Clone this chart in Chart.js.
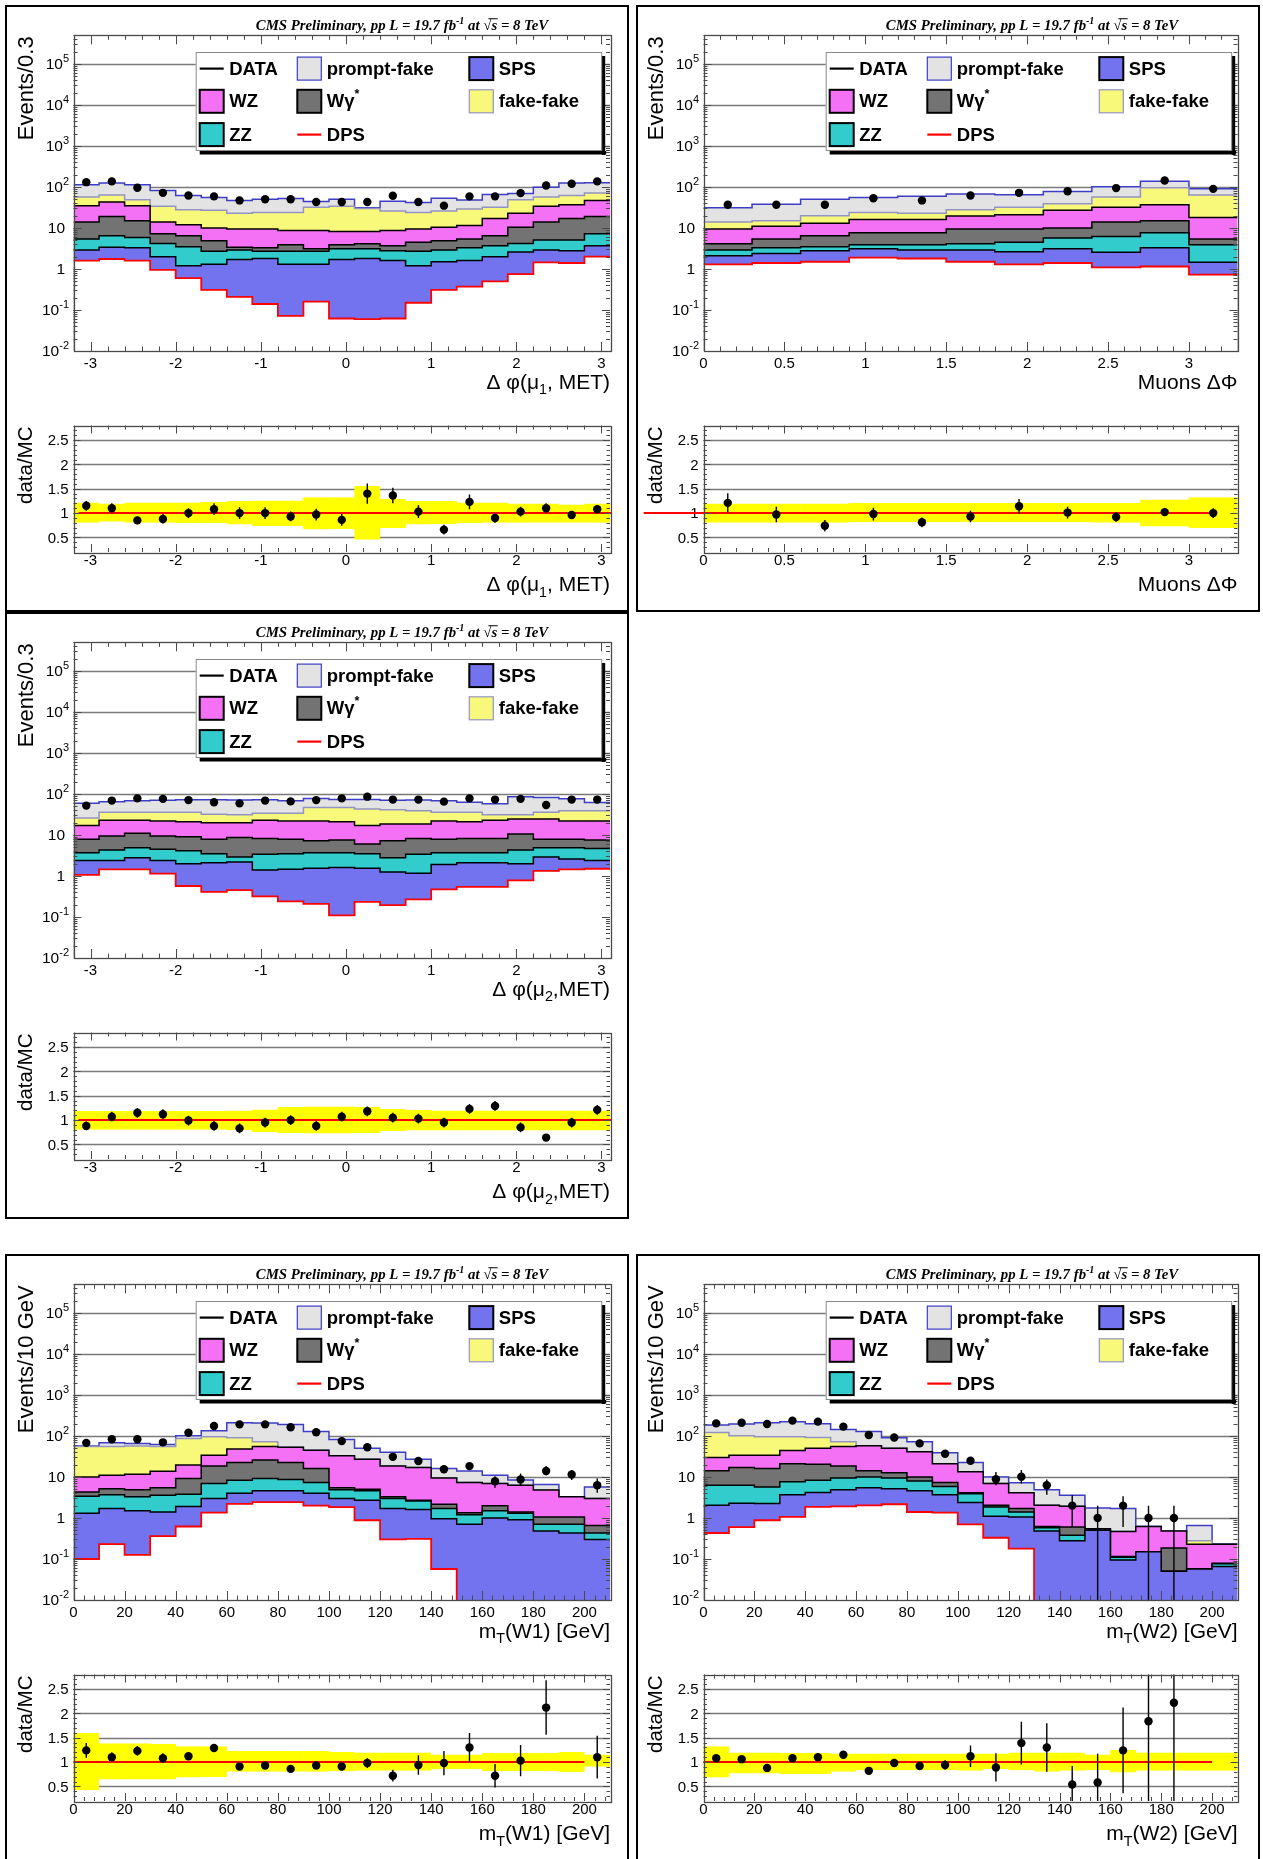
<!DOCTYPE html>
<html lang="en">
<head>
<meta charset="UTF-8">
<title>Same-sign dimuon control distributions</title>
<script src="https://cdn.jsdelivr.net/npm/chart.js"></script>
<style>
  html, body { margin: 0; padding: 0; background: #fff; }
  body { position: relative; width: 1263px; height: 1859px; overflow: hidden; }
  .pad { position: absolute; border: 2px solid #000; box-sizing: border-box; }
  canvas { position: absolute; }
</style>
</head>
<body>
<div class="pad" style="left:5px;top:5px;width:624px;height:607px"></div>
<div class="pad" style="left:636px;top:5px;width:624px;height:607px"></div>
<div class="pad" style="left:5px;top:612px;width:624px;height:607px"></div>
<div class="pad" style="left:5px;top:1254px;width:624px;height:607px"></div>
<div class="pad" style="left:636px;top:1254px;width:624px;height:607px"></div>

<script>
// ---- binning and axis ticks ----
const dphiEdges = [-3.2, -2.9, -2.6, -2.3, -2.0, -1.7, -1.4, -1.1, -0.8, -0.5, -0.2, 0.1, 0.4, 0.7, 1.0, 1.3, 1.6, 1.9, 2.2, 2.5, 2.8, 3.1];
const muonDphiEdges = [0, 0.3, 0.6, 0.9, 1.2, 1.5, 1.8, 2.1, 2.4, 2.7, 3.0, 3.3];
const mtEdges = [0, 10, 20, 30, 40, 50, 60, 70, 80, 90, 100, 110, 120, 130, 140, 150, 160, 170, 180, 190, 200, 210];
const dphiTicks = [-3, -2, -1, 0, 1, 2, 3];
const muonDphiTicks = [0, 0.5, 1, 1.5, 2, 2.5, 3];
const mtTicks = [0, 20, 40, 60, 80, 100, 120, 140, 160, 180, 200];
const logTicks = [0.01, 0.1, 1, 10, 100, 1000, 10000, 100000];
const logTickLabels = [['10', '-2'], ['10', '-1'], ['1', ''], ['10', ''], ['10', '2'], ['10', '3'], ['10', '4'], ['10', '5']];
const ratioTicks = [0.5, 1, 1.5, 2, 2.5];
const ratioTickLabels = ['0.5', '1', '1.5', '2', '2.5'];

// ---- Δφ(μ1, MET): stack tops (cumulative), data, ratio ----
const mu1PromptFake = [114, 125, 113, 82, 62, 55, 47, 50, 52, 44, 50, 31, 45, 42, 53, 48, 66, 69, 99, 125, 127];
const mu1FakeFake = [57, 64, 49, 34, 28, 27, 23, 24, 24, 32, 34, 30, 26, 24, 26, 29, 32, 49, 57, 62, 71];
const mu1WZ = [35, 43, 35, 14, 12, 10, 9.5, 9.5, 8.7, 8.7, 8.2, 8.2, 8.7, 9.5, 10.4, 11.5, 17, 23, 34, 37, 47];
const mu1Wg = [14, 19, 15, 7.2, 6.5, 4.9, 3.4, 3.3, 3.9, 3.1, 3.9, 4.1, 3.7, 4.5, 4.9, 5.4, 6.5, 10.4, 14, 17, 19];
const mu1ZZ = [5.4, 6.5, 5.9, 4.2, 3.5, 2.7, 2.9, 2.7, 2.7, 2.7, 3.1, 3.1, 2.8, 2.7, 2.9, 3.3, 3.7, 4.2, 5.1, 5.1, 7.2];
const mu1SPS = [2.9, 3.4, 3.3, 2.0, 1.2, 1.3, 1.7, 1.8, 1.3, 1.3, 1.7, 1.8, 1.6, 1.2, 1.5, 1.6, 2.0, 2.6, 2.9, 2.8, 3.7];
const mu1DPS = [1.6, 1.75, 1.6, 0.95, 0.6, 0.31, 0.21, 0.14, 0.072, 0.16, 0.062, 0.06, 0.062, 0.15, 0.31, 0.37, 0.5, 0.75, 1.45, 1.4, 2.0];
const mu1Data = [131, 137, 96, 72, 62, 59, 47, 50, 50, 43, 43, 43, 61, 43, 35, 59, 59, 71, 109, 120, 137];
const mu1Ratio = [1.15, 1.10, 0.85, 0.88, 1.0, 1.08, 1.0, 1.0, 0.93, 0.97, 0.86, 1.40, 1.36, 1.03, 0.66, 1.23, 0.90, 1.03, 1.10, 0.96, 1.08];
const mu1RatioErr = [0.1, 0.1, 0.08, 0.1, 0.1, 0.12, 0.12, 0.12, 0.1, 0.12, 0.12, 0.21, 0.16, 0.13, 0.1, 0.15, 0.1, 0.1, 0.1, 0.08, 0.08];
const mu1BandHi = [1.21, 1.19, 1.21, 1.21, 1.21, 1.22, 1.24, 1.25, 1.25, 1.32, 1.32, 1.55, 1.28, 1.24, 1.24, 1.21, 1.21, 1.19, 1.19, 1.17, 1.19];
const mu1BandLo = [0.81, 0.83, 0.81, 0.81, 0.8, 0.8, 0.77, 0.74, 0.74, 0.67, 0.68, 0.46, 0.7, 0.77, 0.78, 0.8, 0.81, 0.81, 0.81, 0.81, 0.81];

// ---- Muons ΔΦ ----
const dmmPromptFake = [31, 38, 50, 55, 59, 67, 65, 78, 102, 138, 90];
const dmmFakeFake = [14, 15, 20, 24, 23, 28, 32, 39, 57, 96, 64];
const dmmWZ = [9.5, 11, 13, 16, 16, 19.5, 21, 27, 32, 37, 18];
const dmmWg = [4.1, 5.4, 6.5, 7.6, 7.6, 9.5, 9.5, 10, 14, 15, 5.4];
const dmmZZ = [2.9, 3.3, 3.5, 3.9, 3.9, 4.1, 4.5, 5.7, 6.2, 7.6, 3.9];
const dmmSPS = [2.1, 2.4, 2.8, 3.1, 2.9, 2.9, 2.65, 3.1, 2.55, 3.3, 1.45];
const dmmDPS = [1.3, 1.4, 1.5, 1.9, 1.8, 1.5, 1.3, 1.4, 1.1, 1.15, 0.73];
const dmmData = [37, 37, 37, 53, 47, 62, 72, 79, 94, 144, 90];
const dmmRatio = [1.21, 0.97, 0.74, 0.98, 0.81, 0.93, 1.14, 1.01, 0.92, 1.02, 1.0];
const dmmRatioErr = [0.2, 0.16, 0.12, 0.13, 0.1, 0.12, 0.15, 0.12, 0.1, 0.08, 0.1];
const dmmBandHi = [1.19, 1.19, 1.19, 1.2, 1.2, 1.2, 1.2, 1.2, 1.2, 1.27, 1.32];
const dmmBandLo = [0.81, 0.81, 0.81, 0.82, 0.82, 0.82, 0.82, 0.82, 0.81, 0.73, 0.7];

// ---- Δφ(μ2, MET) ----
const mu2PromptFake = [59, 65, 68, 70, 72, 72, 71, 72, 68, 78, 73, 73, 70, 71, 68, 63, 58, 86, 82, 76, 62];
const mu2FakeFake = [26, 36, 36, 36, 36, 32, 31, 34, 34, 47, 47, 43, 41, 39, 36, 36, 31, 31, 36, 39, 39];
const mu2WZ = [17, 23, 23, 22, 21, 20, 20, 23, 22, 22, 21, 17, 18.5, 18.5, 22, 21, 23, 24.5, 24.5, 22, 22];
const mu2Wg = [7.9, 9.5, 11, 9.5, 9.0, 7.9, 8.7, 8.2, 7.9, 7.2, 7.5, 6.0, 7.2, 8.2, 7.9, 8.2, 8.2, 10.5, 7.9, 7.9, 7.5];
const mu2ZZ = [3.7, 4.3, 4.9, 4.5, 4.1, 3.5, 2.9, 3.4, 3.5, 3.7, 3.7, 3.5, 2.8, 3.4, 3.7, 3.7, 3.7, 4.3, 4.9, 4.9, 4.7];
const mu2SPS = [2.4, 2.4, 2.8, 2.4, 2.0, 2.1, 2.2, 1.4, 1.45, 1.55, 1.6, 1.55, 1.25, 1.16, 1.9, 2.1, 2.1, 2.0, 2.9, 2.6, 2.4];
const mu2DPS = [1.06, 1.45, 1.45, 1.14, 0.57, 0.41, 0.45, 0.32, 0.24, 0.21, 0.11, 0.235, 0.195, 0.27, 0.47, 0.54, 0.54, 0.78, 1.33, 1.45, 1.5];
const mu2Data = [52, 69, 78, 76, 71, 63, 59, 69, 66, 71, 78, 86, 73, 73, 65, 78, 73, 76, 54, 73, 73];
const mu2Ratio = [0.88, 1.07, 1.15, 1.12, 0.99, 0.88, 0.83, 0.95, 1.0, 0.88, 1.07, 1.18, 1.05, 1.03, 0.95, 1.23, 1.29, 0.85, 0.64, 0.95, 1.21];
const mu2RatioErr = [0.09, 0.1, 0.1, 0.1, 0.1, 0.1, 0.1, 0.1, 0.1, 0.1, 0.1, 0.1, 0.1, 0.1, 0.1, 0.1, 0.1, 0.1, 0.07, 0.1, 0.1];
const mu2BandHi = [1.18, 1.18, 1.18, 1.18, 1.18, 1.18, 1.19, 1.21, 1.26, 1.27, 1.27, 1.26, 1.22, 1.2, 1.19, 1.19, 1.19, 1.19, 1.19, 1.19, 1.19];
const mu2BandLo = [0.81, 0.81, 0.81, 0.81, 0.81, 0.81, 0.8, 0.76, 0.74, 0.73, 0.73, 0.74, 0.78, 0.79, 0.79, 0.79, 0.79, 0.79, 0.79, 0.79, 0.79];

// ---- mT(W1) ----
const w1PromptFake = [57, 68, 66, 62, 102, 135, 211, 206, 190, 128, 82, 50, 40, 27, 16, 14, 11, 8.4, 6.6, 3.3, 5.7];
const w1FakeFake = [55, 55, 57, 55, 87, 96, 91, 72, 53, 45, 33, 27, 18.5, 17, 9.5, 7.3, 6.9, 6.3, 4.8, 3.3, 3.0];
const w1WZ = [10, 11, 11.7, 13.8, 19.5, 34, 48, 55, 53, 45, 33, 27, 18.5, 17, 9.5, 7.3, 6.9, 6.3, 4.8, 3.3, 3.0];
const w1Wg = [4.3, 5.2, 4.9, 5.5, 9.2, 18.4, 22.5, 26, 22.5, 16, 5.5, 5.0, 3.3, 2.7, 2.15, 1.35, 2.0, 1.4, 1.05, 1.05, 0.66];
const w1ZZ = [3.4, 3.7, 3.3, 3.6, 3.8, 6.9, 8.3, 9.2, 8.7, 7.3, 4.9, 4.6, 3.0, 2.6, 1.7, 1.2, 1.5, 1.3, 0.70, 0.70, 0.43];
const w1SPS = [1.3, 1.7, 1.5, 1.4, 1.9, 3.0, 4.0, 4.6, 4.6, 4.0, 3.0, 2.7, 1.7, 1.6, 0.96, 0.70, 1.0, 0.91, 0.48, 0.43, 0.30];
const w1DPS = [0.10, 0.23, 0.126, 0.36, 0.62, 1.35, 2.2, 2.45, 2.45, 2.0, 1.85, 0.88, 0.30, 0.31, 0.057, 0, 0, 0, 0, 0, 0];
const w1Data = [68, 83, 83, 70, 120, 175, 192, 192, 163, 123, 75, 53, 31, 24.5, 15.5, 18.4, 7.9, 8.7, 14, 11.5, 6.3];
const w1DataLo = [null, null, null, null, null, null, null, null, null, null, null, null, null, null, 13.5, 15, 5.5, 6.3, 11, 8.4, 4.1];
const w1DataHi = [null, null, null, null, null, null, null, null, null, null, null, null, null, null, 18, 21, 10.4, 12.2, 18.4, 14.7, 9.2];
const w1Ratio = [1.24, 1.10, 1.23, 1.08, 1.12, 1.29, 0.91, 0.93, 0.86, 0.93, 0.91, 0.98, 0.72, 0.94, 0.98, 1.30, 0.72, 1.03, 2.12, null, 1.10];
const w1RatioErr = [0.15, 0.1, 0.1, 0.1, 0.08, 0.08, 0.06, 0.06, 0.06, 0.06, 0.08, 0.1, 0.12, 0.2, 0.25, 0.3, 0.24, 0.32, 0.56, null, 0.44];
const w1BandHi = [1.59, 1.38, 1.38, 1.37, 1.32, 1.32, 1.22, 1.22, 1.22, 1.22, 1.2, 1.19, 1.19, 1.19, 1.15, 1.15, 1.18, 1.18, 1.18, 1.2, 1.15];
const w1BandLo = [0.43, 0.65, 0.65, 0.65, 0.69, 0.7, 0.81, 0.81, 0.81, 0.81, 0.82, 0.83, 0.83, 0.83, 0.86, 0.86, 0.82, 0.82, 0.82, 0.8, 0.91];

// ---- mT(W2) ----
const w2PromptFake = [185, 197, 210, 222, 200, 143, 128, 90, 72, 39, 22.6, 10, 7.2, 4.9, 3.6, 1.76, 1.7, 0.62, 0.48, 0.66, 0.235];
const w2FakeFake = [121, 101, 96, 96, 92, 72, 58, 50, 41, 21, 13.4, 6.9, 4.1, 2.04, 1.93, 0.55, 0.47, 0.62, 0.48, 0.28, 0.23];
const w2WZ = [30, 34, 34, 44, 50, 55, 58, 50, 41, 21, 13.4, 6.9, 4.1, 2.04, 1.93, 0.55, 0.47, 0.62, 0.48, 0.23, 0.23];
const w2Wg = [14.1, 17, 16, 21, 20.5, 18.4, 14.1, 12.6, 10, 7.3, 4.1, 2.04, 1.7, 0.62, 0.60, 0.55, 0.115, 0.15, 0.185, 0.057, 0.079];
const w2ZZ = [6.3, 6.3, 5.7, 7.6, 8.3, 9.5, 10, 9.5, 8.0, 5.9, 3.9, 1.86, 1.4, 0.58, 0.38, 0.50, 0.11, 0.15, 0.05, 0.057, 0.077];
const w2SPS = [2.04, 2.3, 2.25, 3.7, 4.2, 4.9, 5.5, 5.2, 4.6, 3.7, 2.4, 1.1, 1.05, 0.48, 0.28, 0.50, 0.095, 0.15, 0.05, 0.057, 0.066];
const w2DPS = [0.43, 0.60, 0.88, 1.06, 1.86, 1.93, 2.04, 2.16, 1.40, 1.35, 0.70, 0.33, 0.18, 0, 0, 0, 0, 0, 0, 0, 0];
const w2Data = [203, 211, 196, 237, 224, 169, 106, 92, 66, 37, 24.8, 8.8, 10.1, 6.3, 2.0, 1.0, 2.0, 1.0, 1.0, null, null];
const w2DataLo = [null, null, null, null, null, null, null, null, null, null, null, 6.3, 6.9, 3.7, 0.6, 0, 0.6, 0, 0, null, null];
const w2DataHi = [null, null, null, null, null, null, null, null, null, null, null, 13.3, 14.7, 8.7, 3.6, 2.0, 3.4, 2.0, 2.0, null, null];
const w2Ratio = [1.08, 1.06, 0.88, 1.08, 1.10, 1.15, 0.82, 0.98, 0.92, 0.94, 1.12, 0.89, 1.39, 1.30, 0.54, 0.58, 1.24, 1.84, 2.22, null, null];
const w2RatioErrLo = [0.05, 0.05, 0.05, 0.05, 0.05, 0.05, 0.05, 0.06, 0.06, 0.1, 0.22, 0.29, 0.44, 0.5, 0.54, 0.58, 0.88, 1.84, 2.22, null, null];
const w2RatioErrHi = [0.05, 0.05, 0.05, 0.05, 0.05, 0.05, 0.05, 0.06, 0.06, 0.1, 0.22, 0.29, 0.44, 0.5, 0.38, 0.59, 0.88, 2.0, 2.0, null, null];
const w2BandHi = [1.32, 1.19, 1.19, 1.18, 1.18, 1.17, 1.17, 1.17, 1.17, 1.17, 1.17, 1.17, 1.19, 1.19, 1.19, 1.15, 1.24, 1.19, 1.19, 1.19, 1.19];
const w2BandLo = [0.69, 0.77, 0.77, 0.76, 0.76, 0.81, 0.84, 0.84, 0.84, 0.84, 0.83, 0.86, 0.84, 0.81, 0.83, 0.84, 0.79, 0.83, 0.83, 0.83, 0.83];

// ---- styles ----
const FILL = { promptFake: '#e3e3e3', fakeFake: '#f8f87a', WZ: '#f470f4', Wg: '#737373', ZZ: '#33cccc', SPS: '#7373ef', DPS: '#ffffff' };
const EDGE = { promptFake: '#3c3cc4', fakeFake: '#9494c4', WZ: '#000000', Wg: '#000000', ZZ: '#000000', SPS: '#000000', DPS: '#ff0000' };
const SANS = '"Liberation Sans", Arial, sans-serif';
const SERIF = '"Liberation Serif", "Times New Roman", serif';
const GRID = '#7a7a7a';
const FRAME = '#4a4a4a';
const legendEntries = [
  ['DATA', 'data', 0, 0], ['prompt-fake', 'promptFake', 1, 0], ['SPS', 'SPS', 2, 0],
  ['WZ', 'WZ', 0, 1], ['Wγ', 'Wg', 1, 1], ['fake-fake', 'fakeFake', 2, 1],
  ['ZZ', 'ZZ', 0, 2], ['DPS', 'DPS', 1, 2]
];

const LEFT = { left: 6, width: 622, frameL: 73.5, frameR: 610 };
const RIGHT = { left: 637, width: 623, frameL: 703.5, frameR: 1237.5 };

const panels = [
  Object.assign({ top: 6, edges: dphiEdges, xMin: -3.2, xMax: 3.1, ticks: dphiTicks, minorStep: 0.2,
    yTitle: 'Events/0.3', xTitle: [['Δ φ(μ', ''], ['1', 'sub'], [', MET)', '']],
    pf: mu1PromptFake, ff: mu1FakeFake, wz: mu1WZ, wg: mu1Wg, zz: mu1ZZ, sps: mu1SPS, dps: mu1DPS,
    data: mu1Data, dataLo: null, dataHi: null, ratio: mu1Ratio, errLo: mu1RatioErr, errHi: mu1RatioErr,
    bandLo: mu1BandLo, bandHi: mu1BandHi, refLine: [-3.14, 3.14], refClip: true }, LEFT),
  Object.assign({ top: 6, edges: muonDphiEdges, xMin: 0, xMax: 3.3, ticks: muonDphiTicks, minorStep: 0.1,
    yTitle: 'Events/0.3', xTitle: [['Muons ΔΦ', '']],
    pf: dmmPromptFake, ff: dmmFakeFake, wz: dmmWZ, wg: dmmWg, zz: dmmZZ, sps: dmmSPS, dps: dmmDPS,
    data: dmmData, dataLo: null, dataHi: null, ratio: dmmRatio, errLo: dmmRatioErr, errHi: dmmRatioErr,
    bandLo: dmmBandLo, bandHi: dmmBandHi, refLine: [-0.37, 3.15], refClip: false }, RIGHT),
  Object.assign({ top: 613, edges: dphiEdges, xMin: -3.2, xMax: 3.1, ticks: dphiTicks, minorStep: 0.2,
    yTitle: 'Events/0.3', xTitle: [['Δ φ(μ', ''], ['2', 'sub'], [',MET)', '']],
    pf: mu2PromptFake, ff: mu2FakeFake, wz: mu2WZ, wg: mu2Wg, zz: mu2ZZ, sps: mu2SPS, dps: mu2DPS,
    data: mu2Data, dataLo: null, dataHi: null, ratio: mu2Ratio, errLo: mu2RatioErr, errHi: mu2RatioErr,
    bandLo: mu2BandLo, bandHi: mu2BandHi, refLine: [-3.14, 3.14], refClip: true }, LEFT),
  Object.assign({ top: 1255, edges: mtEdges, xMin: 0, xMax: 210, ticks: mtTicks, minorStep: 4,
    yTitle: 'Events/10 GeV', xTitle: [['m', ''], ['T', 'sub'], ['(W1) [GeV]', '']],
    pf: w1PromptFake, ff: w1FakeFake, wz: w1WZ, wg: w1Wg, zz: w1ZZ, sps: w1SPS, dps: w1DPS,
    data: w1Data, dataLo: w1DataLo, dataHi: w1DataHi, ratio: w1Ratio, errLo: w1RatioErr, errHi: w1RatioErr,
    bandLo: w1BandLo, bandHi: w1BandHi, refLine: [0, 200], refClip: true }, LEFT),
  Object.assign({ top: 1255, edges: mtEdges, xMin: 0, xMax: 210, ticks: mtTicks, minorStep: 4,
    yTitle: 'Events/10 GeV', xTitle: [['m', ''], ['T', 'sub'], ['(W2) [GeV]', '']],
    pf: w2PromptFake, ff: w2FakeFake, wz: w2WZ, wg: w2Wg, zz: w2ZZ, sps: w2SPS, dps: w2DPS,
    data: w2Data, dataLo: w2DataLo, dataHi: w2DataHi, ratio: w2Ratio, errLo: w2RatioErrLo, errHi: w2RatioErrHi,
    bandLo: w2BandLo, bandHi: w2BandHi, refLine: [0, 200], refClip: true }, RIGHT)
];

// ---- helpers ----
function addCanvas(x, y, w, h) {
  const c = document.createElement('canvas');
  c.width = w; c.height = h;
  c.style.left = x + 'px'; c.style.top = y + 'px';
  document.body.appendChild(c);
  return c;
}

function stepRange(a, b, step) {
  const out = [];
  for (let k = Math.ceil(a / step - 1e-9); k * step <= b + 1e-9; k++) out.push(+(k * step).toFixed(6));
  return out;
}

function histPoints(edges, vals) {
  const pts = [];
  vals.forEach((v, i) => {
    const y = v > 0 ? v : 1e-4;
    pts.push({ x: edges[i], y: y }, { x: edges[i + 1], y: y });
  });
  return pts;
}

function segFont(mode, size, pre, fam) {
  const s = mode ? size * 0.68 : size;
  return pre + s + 'px ' + fam;
}

function drawRich(ctx, segs, x, y, size, pre, fam, align) {
  let w = 0;
  segs.forEach(([t, m]) => { ctx.font = segFont(m === 'over' ? '' : m, size, pre, fam); w += ctx.measureText(t).width; });
  let cx = align === 'right' ? x - w : align === 'center' ? x - w / 2 : x;
  ctx.textAlign = 'left';
  const marks = [];
  segs.forEach(([t, m]) => {
    ctx.font = segFont(m === 'over' ? '' : m, size, pre, fam);
    const dy = m === 'sub' ? size * 0.28 : m === 'sup' ? -size * 0.42 : 0;
    ctx.fillText(t, cx, y + dy);
    const tw = ctx.measureText(t).width;
    if (m === 'over') marks.push([cx, cx + tw]);
    cx += tw;
  });
  return marks;
}

function hline(ctx, x0, x1, y) { ctx.beginPath(); ctx.moveTo(x0, y); ctx.lineTo(x1, y); ctx.stroke(); }
function vline(ctx, x, y0, y1) { ctx.beginPath(); ctx.moveTo(x, y0); ctx.lineTo(x, y1); ctx.stroke(); }

function drawFrameTicks(ctx, a, xs, ys, p, yMajor, yMinor, len) {
  ctx.save();
  ctx.strokeStyle = FRAME;
  ctx.lineWidth = 1;
  const minorX = stepRange(p.xMin, p.xMax, p.minorStep).filter(v => !p.ticks.some(t => Math.abs(t - v) < 1e-6));
  p.ticks.forEach(v => {
    const px = Math.round(xs.getPixelForValue(v)) + 0.5;
    vline(ctx, px, a.bottom, a.bottom - len.xMaj); vline(ctx, px, a.top, a.top + len.xMaj);
  });
  minorX.forEach(v => {
    const px = Math.round(xs.getPixelForValue(v)) + 0.5;
    vline(ctx, px, a.bottom, a.bottom - len.xMin); vline(ctx, px, a.top, a.top + len.xMin);
  });
  yMajor.forEach(v => {
    const py = Math.round(ys.getPixelForValue(v)) + 0.5;
    if (py < a.top || py > a.bottom) return;
    hline(ctx, a.left, a.left + len.yMaj, py); hline(ctx, a.right, a.right - len.yMaj, py);
  });
  yMinor.forEach(v => {
    const py = Math.round(ys.getPixelForValue(v)) + 0.5;
    if (py < a.top || py > a.bottom) return;
    hline(ctx, a.left, a.left + len.yMin, py); hline(ctx, a.right, a.right - len.yMin, py);
  });
  ctx.lineWidth = 1.3;
  ctx.strokeRect(Math.round(a.left) + 0.5, Math.round(a.top) + 0.5, Math.round(a.right - a.left), Math.round(a.bottom - a.top));
  // x tick labels
  ctx.fillStyle = '#000';
  ctx.font = '15px ' + SANS;
  ctx.textAlign = 'center';
  ctx.textBaseline = 'top';
  p.ticks.forEach(v => ctx.fillText(String(v), xs.getPixelForValue(v), a.bottom + len.labelGap));
  ctx.restore();
}

function drawErrorBars(ctx, a, xs, ys, centers, vals, lo, hi, isRatio) {
  ctx.save();
  ctx.beginPath(); ctx.rect(a.left, a.top, a.right - a.left, a.bottom - a.top); ctx.clip();
  ctx.strokeStyle = '#000'; ctx.lineWidth = 1.4;
  vals.forEach((v, i) => {
    if (v === null || lo[i] === null || lo[i] === undefined) return;
    const px = xs.getPixelForValue(centers[i]);
    const yl = isRatio ? v - lo[i] : lo[i];
    const yh = isRatio ? v + hi[i] : hi[i];
    const p0 = yl > 0 || isRatio ? ys.getPixelForValue(yl) : a.bottom + 2;
    vline(ctx, px, p0, ys.getPixelForValue(yh));
  });
  ctx.restore();
}

function drawLegend(ctx, a) {
  const L = a.left + 122.2, T = a.top + 16.7, W = 406.5, H = 99;
  ctx.save();
  ctx.fillStyle = '#fff'; ctx.fillRect(L, T, W, H);
  ctx.fillStyle = '#000';
  ctx.fillRect(L + 4, T + H, W, 3.5);
  ctx.fillRect(L + W - 0.5, T + 4, 3.5, H);
  ctx.strokeStyle = '#8a8a8a'; ctx.lineWidth = 1;
  ctx.strokeRect(L + 0.5, T + 0.5, W - 1, H - 1);
  const colX = [L + 4, L + 101.6, L + 273.6];
  const rowY = [T + 16.6, T + 49.3, T + 82.6];
  legendEntries.forEach(([label, key, c, r]) => {
    const x = colX[c], cy = rowY[r];
    if (key === 'data' || key === 'DPS') {
      ctx.strokeStyle = key === 'data' ? '#000' : '#ff0000';
      ctx.lineWidth = 2.2;
      hline(ctx, x, x + 24, cy);
    } else {
      ctx.fillStyle = FILL[key];
      ctx.fillRect(x, cy - 11.5, 24, 23);
      ctx.strokeStyle = EDGE[key];
      ctx.lineWidth = EDGE[key] === '#000000' ? 2 : 1.2;
      ctx.strokeRect(x, cy - 11.5, 24, 23);
    }
    ctx.fillStyle = '#000';
    ctx.textBaseline = 'middle';
    const segs = key === 'Wg' ? [[label, ''], ['*', 'sup']] : [[label, '']];
    drawRich(ctx, segs, x + 29.5, cy + 1, 18.5, 'bold ', SANS, 'left');
  });
  ctx.restore();
}

function drawCmsTitle(ctx, a) {
  ctx.save();
  ctx.fillStyle = '#000';
  ctx.textBaseline = 'alphabetic';
  const size = 14.8, pre = 'bold italic ';
  const segs = [['CMS Preliminary, pp L = 19.7 fb', ''], ['-1', 'sup'], [' at ', ''], ['√', ''], ['s', 'over'], [' = 8 TeV', '']];
  const base = a.top - 5;
  const marks = drawRich(ctx, segs, a.left + 328.5, base, size, pre, SERIF, 'center');
  ctx.strokeStyle = '#000'; ctx.lineWidth = 1;
  marks.forEach(([x0, x1]) => hline(ctx, x0 - 3, x1 + 0.5, base - size * 0.78));
  ctx.restore();
}

function drawYTitle(ctx, a, text, size, offset) {
  ctx.save();
  ctx.translate(a.left - offset, a.top + 1);
  ctx.rotate(-Math.PI / 2);
  ctx.fillStyle = '#000';
  ctx.font = size + 'px ' + SANS;
  ctx.textAlign = 'right';
  ctx.textBaseline = 'alphabetic';
  ctx.fillText(text, 0, 0);
  ctx.restore();
}

function drawXTitle(ctx, a, segs, gap) {
  ctx.save();
  ctx.fillStyle = '#000';
  ctx.textBaseline = 'alphabetic';
  drawRich(ctx, segs, a.right, a.bottom + gap, 21, '', SANS, 'right');
  ctx.restore();
}

function baseOptions(p, padTop, padBottom, yScale) {
  return {
    responsive: false,
    animation: false,
    events: [],
    layout: { padding: { left: p.frameL - p.left, right: p.left + p.width - p.frameR, top: padTop, bottom: padBottom } },
    plugins: { legend: { display: false }, tooltip: { enabled: false } },
    scales: {
      x: { type: 'linear', min: p.xMin, max: p.xMax, display: false, offset: false },
      y: yScale
    }
  };
}

// ---- main (log) histogram panel ----
function makeMain(p) {
  const cv = addCanvas(p.left, p.top, p.width, 400);
  const centers = p.edges.slice(0, -1).map((e, i) => (e + p.edges[i + 1]) / 2);
  const datasets = [{
    type: 'line', data: centers.map((c, i) => ({ x: c, y: p.data[i] })), showLine: false,
    pointRadius: 4.2, pointBackgroundColor: '#000', pointBorderColor: '#000', pointBorderWidth: 0
  }];
  [['DPS', p.dps], ['SPS', p.sps], ['ZZ', p.zz], ['Wg', p.wg], ['WZ', p.wz], ['fakeFake', p.ff], ['promptFake', p.pf]]
    .forEach(([k, vals]) => datasets.push({
      type: 'line', data: histPoints(p.edges, vals), fill: 'start',
      backgroundColor: FILL[k], borderColor: EDGE[k], borderWidth: k === 'DPS' ? 1.8 : 1.5, pointRadius: 0
    }));
  const minorY = [];
  for (let n = -2; n <= 5; n++) for (let k = 2; k <= 9; k++) minorY.push(k * Math.pow(10, n));
  const plugin = {
    id: 'rootMain',
    beforeDatasetsDraw(chart) {
      const { ctx, chartArea: a } = chart;
      const ys = chart.scales.y;
      ctx.save();
      ctx.strokeStyle = GRID; ctx.lineWidth = 1.5;
      logTicks.forEach(v => {
        const py = Math.round(ys.getPixelForValue(v)) + 0.5;
        if (py > a.top + 1 && py < a.bottom - 1) hline(ctx, a.left, a.right, py);
      });
      ctx.fillStyle = '#000'; ctx.textBaseline = 'middle'; ctx.textAlign = 'right';
      logTicks.forEach((v, i) => {
        const py = ys.getPixelForValue(v);
        const [b, e] = logTickLabels[i];
        if (e) {
          ctx.font = '11px ' + SANS;
          const ew = ctx.measureText(e).width;
          ctx.fillText(e, a.left - 4.5, py - 5);
          ctx.font = '15.5px ' + SANS;
          ctx.fillText(b, a.left - 4.5 - ew, py + 1);
        } else {
          ctx.font = '15.5px ' + SANS;
          ctx.fillText(b, a.left - 8.5, py + 1);
        }
      });
      ctx.restore();
    },
    afterDatasetsDraw(chart) {
      const { ctx, chartArea: a } = chart;
      const xs = chart.scales.x, ys = chart.scales.y;
      if (p.dataLo) drawErrorBars(ctx, a, xs, ys, centers, p.data, p.dataLo, p.dataHi, false);
      drawFrameTicks(ctx, a, xs, ys, p, logTicks, minorY, { xMaj: 9, xMin: 4.5, yMaj: 8, yMin: 4, labelGap: 5 });
      drawCmsTitle(ctx, a);
      drawYTitle(ctx, a, p.yTitle, 22, 40.5);
      drawXTitle(ctx, a, p.xTitle, 37.5);
    },
    afterDraw(chart) { drawLegend(chart.ctx, chart.chartArea); }
  };
  new Chart(cv, {
    type: 'line',
    data: { datasets: datasets },
    options: baseOptions(p, 29.3, 55, { type: 'logarithmic', min: 0.01, max: 5e5, display: false }),
    plugins: [plugin]
  });
}

// ---- ratio panel ----
function makeRatio(p) {
  const cv = addCanvas(p.left, p.top + 400, p.width, 205);
  const centers = p.edges.slice(0, -1).map((e, i) => (e + p.edges[i + 1]) / 2);
  const datasets = [
    { type: 'line', data: centers.map((c, i) => ({ x: c, y: p.ratio[i] })), showLine: false,
      pointRadius: 4.2, pointBackgroundColor: '#000', pointBorderColor: '#000', pointBorderWidth: 0 },
    { type: 'line', data: [{ x: p.refLine[0], y: 1 }, { x: p.refLine[1], y: 1 }], borderColor: '#ff0000',
      borderWidth: 2, pointRadius: 0, fill: false, clip: p.refClip ? 1 : false },
    { type: 'bar', data: centers.map((c, i) => ({ x: c, y: [p.bandLo[i], p.bandHi[i]] })),
      backgroundColor: '#ffff00', borderColor: '#ffff00', borderWidth: 0.8, borderSkipped: false,
      barPercentage: 1, categoryPercentage: 1, grouped: false }
  ];
  const minorY = stepRange(0.2, 2.8, 0.1).filter(v => !ratioTicks.some(t => Math.abs(t - v) < 1e-6));
  const plugin = {
    id: 'rootRatio',
    beforeDatasetsDraw(chart) {
      const { ctx, chartArea: a } = chart;
      const ys = chart.scales.y;
      ctx.save();
      ctx.strokeStyle = GRID; ctx.lineWidth = 1.3;
      ratioTicks.forEach(v => hline(ctx, a.left, a.right, Math.round(ys.getPixelForValue(v)) + 0.5));
      ctx.fillStyle = '#000'; ctx.textBaseline = 'middle'; ctx.textAlign = 'right';
      ctx.font = '15px ' + SANS;
      ratioTicks.forEach((v, i) => ctx.fillText(ratioTickLabels[i], a.left - 5, ys.getPixelForValue(v) + 1));
      ctx.restore();
    },
    afterDatasetsDraw(chart) {
      const { ctx, chartArea: a } = chart;
      const xs = chart.scales.x, ys = chart.scales.y;
      drawErrorBars(ctx, a, xs, ys, centers, p.ratio, p.errLo, p.errHi, true);
      drawFrameTicks(ctx, a, xs, ys, p, ratioTicks, minorY, { xMaj: 8, xMin: 4, yMaj: 7, yMin: 3.5, labelGap: 1.5 });
      drawYTitle(ctx, a, 'data/MC', 20.5, 41.5);
      drawXTitle(ctx, a, p.xTitle, 39);
    }
  };
  new Chart(cv, {
    type: 'line',
    data: { datasets: datasets },
    options: baseOptions(p, 19.5, 59, { type: 'linear', min: 0.2, max: 2.8, display: false }),
    plugins: [plugin]
  });
}

panels.forEach(p => { makeMain(p); makeRatio(p); });
</script>
</body>
</html>
